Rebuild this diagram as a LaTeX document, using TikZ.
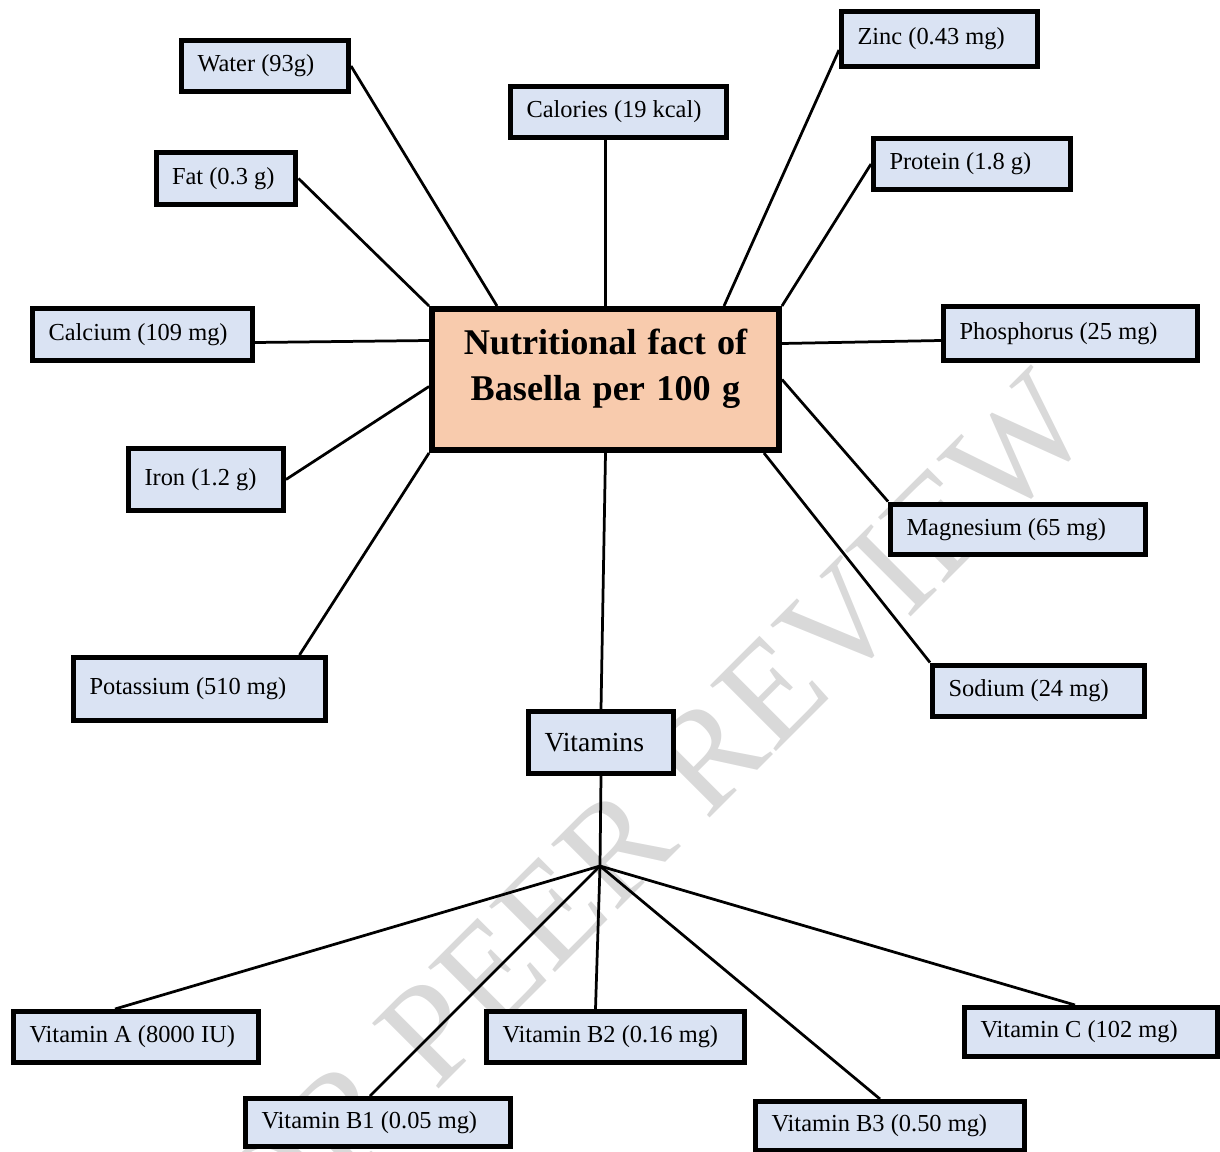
\documentclass[tikz,border=0pt]{standalone}
\usepackage{fontspec}
\setmainfont{Liberation Serif}
\usetikzlibrary{calc}
\definecolor{cajaazul}{RGB}{218,227,243}
\definecolor{cajanaranja}{RGB}{248,203,173}
\tikzset{
	caja/.style={draw, fill=cajaazul, line width=0.1cm, inner xsep=0.32cm, inner ysep=0pt,
		text width=#1, align=left, minimum height=1.02cm, font=\fontsize{13.9}{16.7}\selectfont,
		execute at begin node={\spaceskip=0pt\xspaceskip=0pt}},
	linea/.style={line width=0.055cm},
}
\begin{document}
\begin{tikzpicture}[x=0.02cm, y=-0.02cm]
	\useasboundingbox (0,0) rectangle (1220,1152);
	\begin{scope} % marca de agua
		\clip (0,0) rectangle (1220,1152);
		\node[rotate=45, anchor=base east, inner sep=0pt, text=black!15,
			font=\fontsize{81}{81}\selectfont] (marca) at (1098,430) {FOR PEER REVIEW};
	\end{scope}
	% caja central
	\node[draw, fill=cajanaranja, line width=0.12cm, inner sep=0pt, text width=6.94cm, align=center,
		text height=0.9cm, text depth=1.92cm, font=\bfseries\fontsize{20.6}{26.2}\selectfont,
		execute at begin node={\spaceskip=0pt\xspaceskip=0pt}]
		(nut) at (605.5,379.5) {Nutritional fact of\\Basella per 100 g};
	% nutrientes
	\node[caja=2.70cm] (water) at (265,66) {Water (93g)};
	\node[caja=2.16cm, minimum height=1.04cm] (fat) at (226,178.5) {Fat (0.3 g)};
	\node[caja=3.68cm] (calories) at (618.5,112) {Calories (19 kcal)};
	\node[caja=3.28cm, minimum height=1.10cm] (zinc) at (939.5,39) {Zinc (0.43 mg)};
	\node[caja=3.30cm] (protein) at (972,164) {Protein (1.8 g)};
	\node[caja=3.76cm, minimum height=1.04cm] (calcium) at (142.5,334.5) {Calcium (109 mg)};
	\node[caja=4.44cm, minimum height=1.08cm] (phosphorus) at (1070.5,333.5) {Phosphorus (25 mg)};
	\node[caja=2.46cm, minimum height=1.24cm] (iron) at (206,479.5) {Iron (1.2 g)};
	\node[caja=4.46cm] (magnesium) at (1018,529.5) {Magnesium (65 mg)};
	\node[caja=4.40cm, minimum height=1.26cm] (potassium) at (199.5,689) {Potassium (510 mg)};
	\node[caja=3.60cm] (sodium) at (1038.5,690.5) {Sodium (24 mg)};
	% vitaminas
	\node[caja=2.26cm, minimum height=1.24cm, font=\fontsize{15.7}{18.8}\selectfont]
		(vitamins) at (601,742.5) {Vitamins};
	\coordinate (hub) at (600,866);
	\node[caja=4.26cm] (vitA) at (136,1037) {Vitamin A (8000 IU)};
	\node[caja=4.66cm, minimum height=0.96cm] (vitB1) at (378,1122.5) {Vitamin B1 (0.05 mg)};
	\node[caja=4.52cm] (vitB2) at (615.5,1037) {Vitamin B2 (0.16 mg)};
	\node[caja=4.74cm, minimum height=0.98cm] (vitB3) at (890,1126) {Vitamin B3 (0.50 mg)};
	\node[caja=4.42cm, minimum height=0.98cm] (vitC) at (1091,1032) {Vitamin C (102 mg)};
	% conexiones
	\draw[linea] (water.east) -- ($(nut.north)+(-108.5,0)$);
	\draw[linea] (nut.north |- calories.south) -- (nut.north);
	\draw[linea] ($(zinc.west)+(0,11)$) -- ($(nut.north)+(118.5,0)$);
	\draw[linea] (fat.east) -- (nut.north west);
	\draw[linea] (protein.west) -- (nut.north east);
	\draw[linea] ($(calcium.east)+(0,8)$) -- ($(nut.west)+(0,-39)$);
	\draw[linea] ($(nut.east)+(0,-36)$) -- ($(phosphorus.west)+(0,7)$);
	\draw[linea] (iron.east) -- ($(nut.west)+(0,7)$);
	\draw[linea] (nut.east) -- (magnesium.north west);
	\draw[linea] ($(potassium.north)+(100,0)$) -- (nut.south west);
	\draw[linea] ($(nut.south east)+(-18,0)$) -- (sodium.north west);
	\draw[linea] (nut.south) -- (vitamins.north);
	\draw[linea] (vitamins.south) -- (hub);
	\draw[linea] (hub) -- ($(vitA.north)+(-21,0)$);
	\draw[linea] (hub) -- ($(vitB1.north)+(-8,0)$);
	\draw[linea] (hub) -- ($(vitB2.north)+(-20,0)$);
	\draw[linea] (hub) -- ($(vitB3.north)+(-10,0)$);
	\draw[linea] (hub) -- ($(vitC.north)+(-16,0)$);
\end{tikzpicture}
\end{document}
